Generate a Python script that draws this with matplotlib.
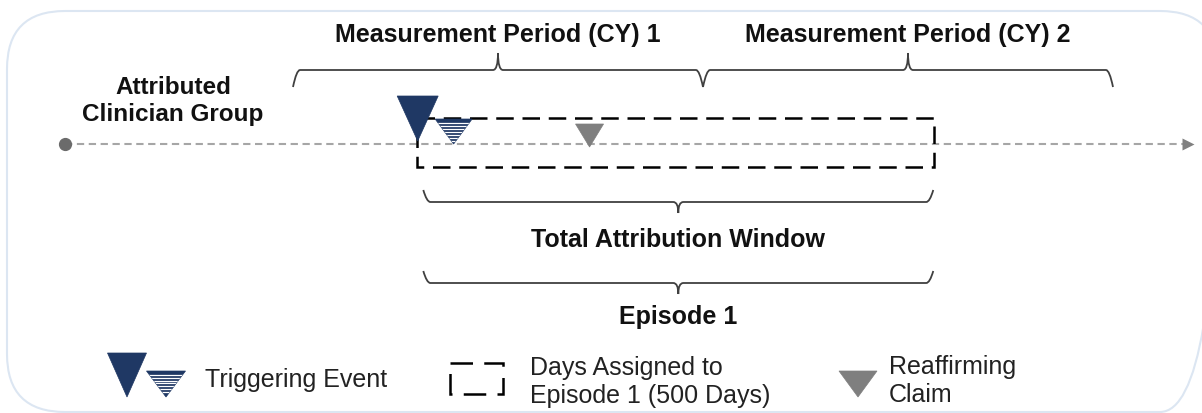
import matplotlib
matplotlib.use("Agg")
import matplotlib.pyplot as plt
import numpy as np
from matplotlib.patches import Polygon, Rectangle, FancyBboxPatch, PathPatch
from matplotlib.path import Path

plt.rcParams['font.family'] = ['Liberation Sans', 'DejaVu Sans']

# timeline in days, day 0 = start of CY 1
period_labels = ["Measurement Period (CY) 1", "Measurement Period (CY) 2"]
period_starts = [0, 365]
period_ends = [365, 730]

trigger_days = [111, 143]          # triggering event, second (striped) trigger
reaffirm_days = [264]
window_start, window_end = 110, 571   # days assigned to episode 1
brace_start, brace_end = 116, 570
brace_labels = ["Total Attribution Window", "Episode 1"]

group_label = "Attributed\nClinician Group"
legend_labels = ["Triggering Event", "Days Assigned to\nEpisode 1 (500 Days)",
                 "Reaffirming\nClaim"]

NAVY = "#1f3864"
GREY = "#7f7f7f"
BRACE = "#404040"

W, H = 1202, 414
PPD = 410 / 365      # pixels per day
X0 = 293             # pixel of day 0

fig = plt.figure(figsize=(W / 100, H / 100), dpi=100)
fig.patch.set_facecolor("white")

# layout axes in pixels (border, legend)
lay = fig.add_axes([0, 0, 1, 1])
lay.set_xlim(0, W)
lay.set_ylim(H, 0)
lay.axis("off")

# timeline axes: x in days, y in pixels
ax = fig.add_axes([0, 0, 1, 1])
ax.set_xlim(-X0 / PPD, (W - X0) / PPD)
ax.set_ylim(H, 0)
ax.axis("off")


def tri(axis, xc, ytop, w, h, color, sx=1.0, z=4):
    w = w * sx
    p = Polygon([(xc - w / 2, ytop), (xc + w / 2, ytop), (xc, ytop + h)],
                closed=True, fc=color, ec=color, lw=0.5, zorder=z)
    axis.add_patch(p)
    return p


def striped_tri(axis, xc, ytop, w, h, sx=1.0, z=4):
    p = tri(axis, xc, ytop, w, h, NAVY, sx, z)
    for y in np.arange(ytop + 3.5, ytop + h - 2, 3.0):
        ln, = axis.plot([xc - w * sx * 0.45, xc + w * sx * 0.45], [y, y],
                        color="white", lw=0.9, zorder=z + 0.1)
        ln.set_clip_path(p)


def brace(axis, x0, x1, y_line, y_end, y_tip):
    xm = (x0 + x1) / 2
    re = 7 / PPD
    rt = 5 / PPD
    verts = [(x0, y_end), (x0 + re * 0.5, y_line), (x0 + re, y_line),
             (xm - rt, y_line), (xm, y_line), (xm, y_tip),
             (xm, y_line), (xm + rt, y_line),
             (x1 - re, y_line), (x1 - re * 0.5, y_line), (x1, y_end)]
    codes = [Path.MOVETO, Path.CURVE3, Path.CURVE3, Path.LINETO,
             Path.CURVE3, Path.CURVE3, Path.CURVE3, Path.CURVE3,
             Path.LINETO, Path.CURVE3, Path.CURVE3]
    axis.add_patch(PathPatch(Path(verts, codes), fc="none", ec=BRACE,
                             lw=1.3, zorder=3))


# rounded frame
lay.add_patch(FancyBboxPatch((7, 12), 1218 - 7, 413 - 12,
                             boxstyle="round,pad=0,rounding_size=58",
                             fc="none", ec="#dce6f2", lw=1.5))

# main timeline
ax.plot([-203, 795], [145, 145], color="#a6a6a6", lw=1.5,
        linestyle=(0, (3.5, 2.2)), zorder=1)
ax.plot([-203], [145], marker="o", ms=8.5, color="#6b6b6b", zorder=2)
ax.plot([797], [145], marker=">", ms=8, color="#808080", mec="none", zorder=2)

ax.text(173 / PPD - X0 / PPD, 101, group_label, ha="center", va="center",
        fontsize=17.5, fontweight="bold", linespacing=1.2, color="#111111")

# measurement period braces
for s, e, lab in zip(period_starts, period_ends, period_labels):
    brace(ax, s, e, 71, 88, 54)
    ax.text((s + e) / 2, 35, lab, ha="center", va="center", fontsize=18,
            fontweight="bold", color="#111111")

# days assigned to episode (dashed box)
ax.add_patch(Rectangle((window_start, 119), window_end - window_start, 49,
                       fill=False, ec="black", lw=1.8,
                       linestyle=(0, (7, 3.5)), zorder=3))

# triggering events and reaffirming claim
tri(ax, trigger_days[0], 97, 41, 45, NAVY, 1 / PPD, z=5)
striped_tri(ax, trigger_days[1], 120, 37, 25, 1 / PPD, z=5)
for d in reaffirm_days:
    tri(ax, d, 125, 28, 23, GREY, 1 / PPD, z=5)

# attribution window / episode braces
for (yl, ye, yt, ylab), lab in zip([(203, 191, 214, 240), (284, 272, 295, 317)],
                                   brace_labels):
    brace(ax, brace_start, brace_end, yl, ye, yt)
    ax.text((brace_start + brace_end) / 2, ylab, lab, ha="center", va="center",
            fontsize=18, fontweight="bold", color="#111111")

# legend
tri(lay, 127, 354, 39, 44, NAVY)
striped_tri(lay, 166, 372, 39, 26)
lay.text(205, 380, legend_labels[0], ha="left", va="center", fontsize=18,
         color="#222222")

lay.add_patch(Rectangle((450, 364), 53, 31, fill=False, ec="black", lw=1.8,
                        linestyle=(0, (9, 4.5))))
lay.text(530, 382, legend_labels[1], ha="left", va="center", fontsize=18,
         color="#222222", linespacing=1.2)

tri(lay, 858, 372, 38, 26, GREY)
lay.text(889, 381, legend_labels[2], ha="left", va="center", fontsize=18,
         color="#222222", linespacing=1.2)

fig.savefig("out.png", dpi=100, facecolor="white")
